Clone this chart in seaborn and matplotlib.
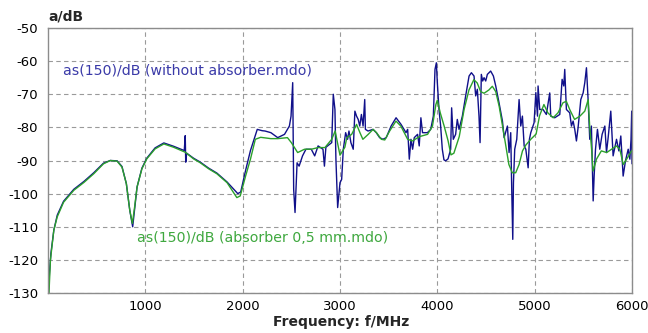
import matplotlib
matplotlib.use("Agg")
import matplotlib.pyplot as plt
import seaborn as sns
import pandas as pd

# Attenuation without absorber (MHz, dB)
freq_open = [5, 15, 30, 60, 95, 160, 265, 370, 470, 570, 640, 710, 760, 805, 840, 870, 893, 915,
             965, 1015, 1100, 1190, 1290, 1400, 1410, 1415, 1425, 1495, 1565, 1650, 1735, 1840,
             1950, 1980, 2030, 2080, 2130, 2150, 2200, 2230, 2290, 2360, 2430, 2480, 2497, 2514,
             2524, 2538, 2559, 2580, 2615, 2650, 2705, 2740, 2775, 2825, 2840, 2855, 2915, 2931,
             2948, 2958, 2976, 3000, 3017, 3034, 3058, 3078, 3092, 3112, 3136, 3153, 3170, 3187,
             3203, 3220, 3237, 3254, 3261, 3288, 3339, 3373, 3407, 3441, 3475, 3525, 3576, 3627,
             3678, 3695, 3712, 3729, 3746, 3763, 3797, 3814, 3831, 3848, 3898, 3932, 3959, 3976,
             3990, 4000, 4017, 4034, 4051, 4068, 4085, 4110, 4137, 4147, 4164, 4188, 4205, 4223,
             4257, 4291, 4326, 4350, 4377, 4394, 4411, 4428, 4439, 4452, 4466, 4480, 4497, 4514,
             4548, 4576, 4600, 4634, 4669, 4686, 4720, 4737, 4754, 4765, 4775, 4782, 4795, 4816,
             4840, 4857, 4874, 4892, 4909, 4933, 4946, 4960, 4994, 5012, 5029, 5035, 5052, 5086,
             5120, 5155, 5165, 5206, 5258, 5282, 5299, 5309, 5326, 5360, 5378, 5395, 5412, 5429,
             5446, 5474, 5498, 5515, 5532, 5549, 5566, 5583, 5601, 5611, 5625, 5645, 5669, 5693,
             5721, 5738, 5755, 5782, 5806, 5841, 5865, 5885, 5909, 5933, 5961, 5978, 5990, 5997,
             6000]
att_open = [-130, -124, -118, -111, -106.5, -102.3, -98.7, -96.3, -93.7, -90.8, -90, -90.1, -91.8,
            -97, -105, -110, -104, -98, -92.3, -89.3, -86.2, -84.7, -85.7, -87, -82.5, -90.5, -87.8,
            -89.3, -90.5, -92.3, -93.8, -96.5, -100, -99.5, -93, -87, -82.4, -80.6, -81, -81.1,
            -81.6, -83.1, -82.1, -79.6, -76.6, -66.5, -98.7, -105.7, -90.7, -91.7, -88.6, -86.6,
            -86.6, -88.6, -85.6, -86.6, -91.7, -86, -84.6, -70, -74.6, -89.6, -104.2, -96.7, -95.7,
            -86.6, -81.6, -83.6, -81.1, -84.6, -86.6, -75.1, -76.6, -77.6, -79.6, -76.1, -79.6,
            -71.6, -80.6, -81.1, -80.6, -81.6, -83.1, -83.6, -83.1, -79.6, -77.1, -79.1, -81.6,
            -80.6, -89.6, -83.6, -86.6, -83.1, -82.1, -85.6, -77.1, -81.6, -81.6, -80.6, -76.6,
            -62.5, -60.5, -66.5, -74.6, -79.6, -86.6, -89.8, -90.1, -89.5, -86.6, -74.1, -83.6,
            -82.1, -77.6, -80.6, -76.6, -70.5, -64.5, -63.5, -64.5, -70.5, -68.5, -76.6, -84.6,
            -64, -66, -65, -66, -64, -63, -64.5, -67.5, -72.6, -78.1, -83.1, -79.6, -87.6, -81.6,
            -99.7, -113.8, -96.7, -86.6, -83.6, -71.6, -79.6, -76.6, -85.6, -86.6, -92.2, -83.6,
            -81.6, -78.6, -69.5, -76.6, -67.5, -74.6, -74.6, -76.1, -69.6, -76.6, -77.1, -76.1,
            -65.5, -67.5, -62.5, -74.6, -75.6, -79.6, -78.1, -80.6, -84.1, -80.1, -71.6, -69.6,
            -66.5, -62, -71.6, -83.6, -79.6, -102.2, -94.7, -86.6, -80.6, -86.6, -82.1, -79.6,
            -87.6, -83.1, -75.1, -88.6, -83.6, -87.1, -82.6, -94.7, -90.1, -86.6, -89.6, -83.6,
            -75.1, -91]

# Attenuation with 0,5 mm absorber (MHz, dB)
freq_abs = [10, 25, 60, 95, 160, 265, 370, 470, 570, 640, 710, 760, 805, 840, 867, 890, 915, 965,
            1015, 1100, 1190, 1290, 1410, 1495, 1565, 1650, 1735, 1840, 1940, 1975, 2030, 2080,
            2130, 2185, 2290, 2360, 2460, 2500, 2565, 2635, 2705, 2775, 2845, 2915, 2950, 3000,
            3050, 3070, 3120, 3170, 3205, 3235, 3290, 3340, 3375, 3425, 3460, 3510, 3575, 3625,
            3695, 3745, 3815, 3900, 3950, 3985, 4000, 4030, 4070, 4110, 4140, 4170, 4225, 4275,
            4325, 4375, 4410, 4445, 4480, 4530, 4565, 4600, 4635, 4670, 4705, 4735, 4770, 4805,
            4840, 4875, 4910, 4960, 5015, 5050, 5095, 5135, 5190, 5240, 5290, 5325, 5360, 5410,
            5465, 5515, 5550, 5565, 5585, 5600, 5635, 5685, 5740, 5790, 5840, 5875, 5910, 5945,
            5995]
att_abs = [-130, -120, -111, -107, -102.6, -99, -96.6, -94, -91, -90, -90.2, -92, -97, -105, -109,
           -104, -98, -92.5, -89.5, -86.5, -85, -86, -87.5, -89.5, -90.7, -92.5, -94, -96.7, -101.2,
           -100.7, -94.7, -89.6, -83.6, -83, -83.4, -83.4, -83.1, -84.6, -87.6, -86.6, -86.6,
           -86.1, -86.1, -83.6, -81.1, -88.4, -86, -83.1, -82.1, -79.1, -81.6, -83.6, -82.1, -80.6,
           -81.6, -83.6, -83.8, -81.1, -78.1, -79.6, -83.6, -84.1, -82.8, -82.1, -79.6, -73.1,
           -71.8, -75.6, -79.6, -84, -88.3, -87.8, -82.8, -74.6, -68.7, -65.6, -66.6, -69.2, -69.7,
           -68.7, -67.6, -69.2, -73.6, -79.6, -85.8, -91.2, -93.7, -93.7, -91.2, -87.1, -85.3,
           -83.6, -82, -76.5, -73.1, -75.6, -77.1, -75.6, -72.6, -72.1, -74.6, -77.6, -76.6, -75.1,
           -71.6, -79.6, -86.6, -93.2, -89.6, -87.1, -87.6, -86.6, -85.6, -86.6, -91.2, -89.6,
           -87.1]

x_ticks = [1000, 2000, 3000, 4000, 5000, 6000]
y_ticks = [-130, -120, -110, -100, -90, -80, -70, -60, -50]
label_open = "as(150)/dB (without absorber.mdo)"
label_abs = "as(150)/dB (absorber 0,5 mm.mdo)"

sns.set_theme(style="white")
plt.rcParams["font.family"] = ["DejaVu Sans"]

BLUE_LINE = "#10108a"
BLUE_TEXT = "#3a3aa8"
GREEN_LINE = "#2ba02b"
GREEN_TEXT = "#3fa83f"
GRID = "#9a9a9a"
FRAME = "#8c8c8c"

df_open = pd.DataFrame({"f": freq_open, "a": att_open})
df_abs = pd.DataFrame({"f": freq_abs, "a": att_abs})

fig = plt.figure(figsize=(6.48, 3.33), dpi=100)
ax = fig.add_axes([48 / 648, 1 - 293 / 333, (632 - 48) / 648, (293 - 28) / 333])

sns.lineplot(data=df_open, x="f", y="a", ax=ax, color=BLUE_LINE, lw=1.0,
             sort=False, estimator=None, zorder=3)
sns.lineplot(data=df_abs, x="f", y="a", ax=ax, color=GREEN_LINE, lw=1.0,
             sort=False, estimator=None, zorder=4)

ax.set_xlim(0, 6000)
ax.set_ylim(-130, -50)
ax.set_xticks(x_ticks)
ax.set_yticks(y_ticks)
ax.set_xticklabels([str(t) for t in x_ticks])
ax.set_yticklabels([str(t) for t in y_ticks])
ax.tick_params(axis="both", length=0, labelsize=9.5, colors="black")
ax.tick_params(axis="y", pad=7)
ax.tick_params(axis="x", pad=5)
ax.set_xlabel("")
ax.set_ylabel("")

# dashed grid behind the curves
ax.set_axisbelow(True)
ax.grid(True, which="major", color=GRID, linewidth=0.8, linestyle=(0, (4, 3)))

for side in ax.spines.values():
    side.set_visible(True)
    side.set_color(FRAME)
    side.set_linewidth(1.0)
    side.set_zorder(6)

ax.text(149, -62.9, label_open, color=BLUE_TEXT, fontsize=10.2, va="center", ha="left", zorder=5)
ax.text(918, -113.5, label_abs, color=GREEN_TEXT, fontsize=10.2, va="center", ha="left", zorder=5)

fig.text(48 / 648, 1 - 17 / 333, "a/dB", fontsize=10, fontweight="bold", va="center", ha="left")
fig.text(341 / 648, 1 - 322 / 333, "Frequency: f/MHz", fontsize=10, fontweight="bold",
         va="center", ha="center")

fig.savefig("out.png", dpi=100)
